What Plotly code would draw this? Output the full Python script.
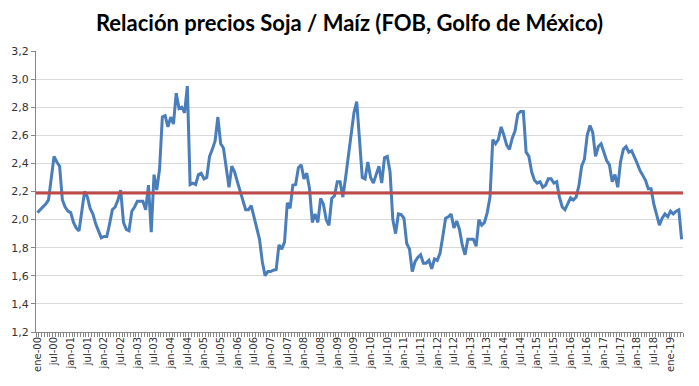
import plotly.graph_objects as go

# Monthly soy/corn price ratio, ene-2000 .. may-2019
ratio_2000 = [2.05, 2.07, 2.09, 2.11, 2.14, 2.30, 2.45, 2.41, 2.38, 2.14, 2.09, 2.06]
ratio_2001 = [2.05, 1.98, 1.94, 1.92, 2.06, 2.20, 2.16, 2.08, 2.04, 1.97, 1.92, 1.87]
ratio_2002 = [1.88, 1.88, 1.97, 2.07, 2.09, 2.14, 2.21, 1.98, 1.93, 1.92, 2.06, 2.09]
ratio_2003 = [2.13, 2.13, 2.13, 2.07, 2.245, 1.91, 2.32, 2.21, 2.36, 2.73, 2.74, 2.66]
ratio_2004 = [2.73, 2.68, 2.90, 2.79, 2.80, 2.76, 2.95, 2.25, 2.26, 2.25, 2.32, 2.33]
ratio_2005 = [2.29, 2.30, 2.45, 2.50, 2.56, 2.73, 2.54, 2.51, 2.38, 2.23, 2.38, 2.34]
ratio_2006 = [2.27, 2.20, 2.14, 2.07, 2.07, 2.10, 2.02, 1.93, 1.86, 1.70, 1.60, 1.63]
ratio_2007 = [1.63, 1.64, 1.645, 1.82, 1.79, 1.84, 2.12, 2.08, 2.245, 2.25, 2.37, 2.39]
ratio_2008 = [2.29, 2.33, 2.22, 1.98, 2.04, 1.98, 2.15, 2.11, 2.00, 1.96, 2.15, 2.17]
ratio_2009 = [2.27, 2.27, 2.16, 2.30, 2.46, 2.62, 2.76, 2.84, 2.60, 2.30, 2.29, 2.41]
ratio_2010 = [2.30, 2.26, 2.32, 2.38, 2.26, 2.44, 2.45, 2.34, 2.00, 1.90, 2.04, 2.035]
ratio_2011 = [2.01, 1.83, 1.79, 1.63, 1.70, 1.73, 1.75, 1.69, 1.69, 1.71, 1.65, 1.72]
ratio_2012 = [1.71, 1.76, 1.88, 2.01, 2.02, 2.04, 1.94, 1.99, 1.93, 1.82, 1.75, 1.86]
ratio_2013 = [1.86, 1.86, 1.81, 2.00, 1.96, 1.98, 2.05, 2.16, 2.57, 2.54, 2.57, 2.66]
ratio_2014 = [2.60, 2.53, 2.50, 2.58, 2.63, 2.75, 2.77, 2.77, 2.48, 2.45, 2.34, 2.28]
ratio_2015 = [2.26, 2.27, 2.23, 2.245, 2.29, 2.29, 2.26, 2.27, 2.16, 2.09, 2.07, 2.11]
ratio_2016 = [2.155, 2.14, 2.16, 2.24, 2.38, 2.43, 2.60, 2.67, 2.62, 2.45, 2.52, 2.54]
ratio_2017 = [2.48, 2.42, 2.39, 2.27, 2.32, 2.23, 2.41, 2.50, 2.52, 2.48, 2.49, 2.45]
ratio_2018 = [2.40, 2.35, 2.31, 2.28, 2.22, 2.22, 2.11, 2.03, 1.96, 2.01, 2.04, 2.02]
ratio_2019 = [2.06, 2.04, 2.06, 2.07, 1.86]

average_ratio = 2.19

tick_labels = (["ene-00", "jul-00"]
               + [lab for y in range(1, 19) for lab in (f"jan-{y:02d}", f"jul-{y:02d}")]
               + ["ene-19"])

ratio = (ratio_2000 + ratio_2001 + ratio_2002 + ratio_2003 + ratio_2004 + ratio_2005
         + ratio_2006 + ratio_2007 + ratio_2008 + ratio_2009 + ratio_2010 + ratio_2011
         + ratio_2012 + ratio_2013 + ratio_2014 + ratio_2015 + ratio_2016 + ratio_2017
         + ratio_2018 + ratio_2019)
n = len(ratio)
x = list(range(n))
tick_vals = [6 * k for k in range(len(tick_labels))]

fig = go.Figure()
fig.add_trace(go.Scatter(x=x, y=ratio, mode="lines",
                         line=dict(color="#4a7ebb", width=3), showlegend=False,
                         hoverinfo="skip"))
fig.add_trace(go.Scatter(x=[-0.5, n - 0.5], y=[average_ratio, average_ratio], mode="lines",
                         line=dict(color="#be4b48", width=3), showlegend=False,
                         hoverinfo="skip"))

fig.update_layout(
    width=699, height=386,
    margin=dict(l=36, r=16, t=51, b=54),
    paper_bgcolor="white", plot_bgcolor="white",
    separators=",.",
    title=dict(text="<b>Relación precios Soja / Maíz (FOB, Golfo de México)</b>",
               x=0.5, xanchor="center", y=0.94, yanchor="middle",
               font=dict(family="Lato", size=22, color="black")),
    font=dict(family="DejaVu Sans", color="#333333"),
)
fig.update_xaxes(
    range=[-0.5, n - 0.5], tickmode="array", tickvals=tick_vals, ticktext=tick_labels,
    tickangle=-90, tickfont=dict(size=10, color="#333333"), ticks="",
    showline=True, linecolor="#868686", linewidth=1, showgrid=False, zeroline=False,
    minor=dict(tickmode="linear", tick0=-0.5, dtick=1, ticks="outside", ticklen=4,
               tickcolor="#868686", showgrid=False),
)
fig.update_yaxes(
    range=[1.2, 3.2], dtick=0.2, tick0=1.2, tickformat=".1f",
    tickfont=dict(size=11, color="#333333"), ticks="outside", ticklen=4,
    tickcolor="#868686", showline=True, linecolor="#868686", linewidth=1,
    showgrid=True, gridcolor="#d9d9d9", gridwidth=1, zeroline=False,
)

fig.write_html("out.html", config={"displayModeBar": False, "staticPlot": True},
               post_script="document.body.style.margin='0';")
